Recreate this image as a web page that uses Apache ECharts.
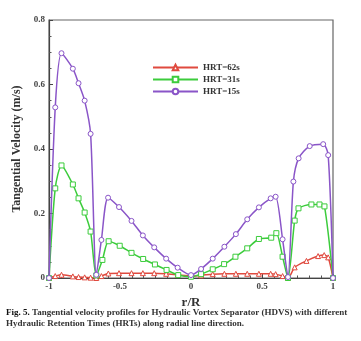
<!DOCTYPE html>
<html><head><meta charset="utf-8">
<script src="https://cdn.jsdelivr.net/npm/echarts@6/dist/echarts.min.js"></script>
<style>html,body{margin:0;padding:0;background:#fff}#c{width:361px;height:341px}</style>
</head><body><div id="c"></div>
<script>
// r/R positions and tangential velocities (m/s)
const xRed = [-1,-0.956,-0.912,-0.832,-0.792,-0.749,-0.707,-0.667,-0.631,-0.582,-0.507,-0.419,-0.339,-0.259,-0.175,-0.094,0,0.071,0.153,0.235,0.316,0.396,0.478,0.561,0.596,0.645,0.683,0.73,0.813,0.895,0.938,0.966,1];
const yRed = [0,0.006,0.01,0.005,0.003,0.002,0.001,0,0.006,0.014,0.015,0.015,0.015,0.015,0.013,0.01,0.006,0.008,0.012,0.013,0.013,0.013,0.013,0.013,0.012,0.006,0,0.033,0.053,0.068,0.071,0.064,0];
const xGreen = [-1,-0.956,-0.912,-0.832,-0.792,-0.749,-0.707,-0.667,-0.624,-0.580,-0.502,-0.419,-0.337,-0.254,-0.172,-0.090,0,0.071,0.153,0.233,0.313,0.396,0.478,0.565,0.601,0.645,0.683,0.73,0.757,0.848,0.905,0.94,1];
const yGreen = [0,0.278,0.349,0.29,0.247,0.203,0.144,0.008,0.056,0.114,0.1,0.078,0.059,0.042,0.025,0.009,0.004,0.012,0.027,0.043,0.066,0.092,0.121,0.125,0.139,0.066,0,0.178,0.216,0.228,0.228,0.222,0];
const xPurple = [-1,-0.956,-0.912,-0.832,-0.792,-0.749,-0.707,-0.667,-0.631,-0.584,-0.507,-0.419,-0.339,-0.259,-0.175,-0.094,0,0.071,0.153,0.235,0.316,0.396,0.478,0.561,0.596,0.645,0.683,0.721,0.758,0.836,0.931,0.966,1];
const yPurple = [0,0.529,0.697,0.649,0.604,0.55,0.447,0.01,0.118,0.249,0.22,0.177,0.132,0.095,0.06,0.032,0.009,0.028,0.06,0.097,0.136,0.182,0.219,0.247,0.252,0.12,0.003,0.299,0.371,0.409,0.415,0.381,0];
const seriesNames = ['HRT=62s','HRT=31s','HRT=15s'];
const xTicks = [-1,-0.5,0,0.5,1];
const yTicks = [0,0.2,0.4,0.6,0.8];

const pairs = (xs, ys) => xs.map((x,i)=>[x, ys[i]]);
const serif = 'Liberation Serif';
const colors = ['#e04a3f','#3ccc3c','#8a55c8'];
const symbols = ['triangle','rect','circle'];
const datas = [pairs(xRed,yRed), pairs(xGreen,yGreen), pairs(xPurple,yPurple)];

const chart = echarts.init(document.getElementById('c'));
chart.setOption({
  animation:false,
  backgroundColor:'#fff',
  grid:{left:49,right:28,top:20,bottom:63},
  legend:{
    orient:'vertical', left:147, top:58, itemWidth:45, itemHeight:7, itemGap:3,
    data:seriesNames,
    textStyle:{fontFamily:serif,fontWeight:'bold',fontSize:9,color:'#333'}
  },
  xAxis:{
    type:'value', min:-1, max:1, interval:0.5,
    name:'r/R', nameLocation:'middle', nameGap:15,
    nameTextStyle:{fontFamily:serif,fontWeight:'bold',fontSize:13,color:'#333'},
    axisLine:{onZero:false,lineStyle:{color:'#444',width:1.2}},
    axisTick:{inside:true,length:4,lineStyle:{color:'#444'}},
    minorTick:{show:true,splitNumber:6,length:2.5,lineStyle:{color:'#555'}},
    splitLine:{show:false},
    axisLabel:{fontFamily:serif,fontWeight:'bold',fontSize:9,color:'#444',margin:4,
      formatter:v=>xTicks.includes(v)?String(v):''}
  },
  yAxis:{
    type:'value', min:0, max:0.8, interval:0.2,
    name:'Tangential Velocity (m/s)', nameLocation:'middle', nameGap:23,
    nameTextStyle:{fontFamily:serif,fontWeight:'bold',fontSize:12,color:'#333'},
    axisLine:{show:true,onZero:false,lineStyle:{color:'#444',width:1.2}},
    axisTick:{show:true,inside:true,length:4,lineStyle:{color:'#444'}},
    minorTick:{show:true,splitNumber:4,length:2.5,lineStyle:{color:'#555'}},
    splitLine:{show:false},
    axisLabel:{fontFamily:serif,fontWeight:'bold',fontSize:9,color:'#444',margin:4,
      formatter:v=>yTicks.includes(+v.toFixed(2))?String(+v.toFixed(1)):''}
  },
  graphic:[
    {type:'rect',shape:{x:49,y:20,width:284,height:258},style:{fill:'none',stroke:'#666',lineWidth:1.2},silent:true},
    {type:'text',left:6,top:308,style:{text:'{b|Fig. 5.} Tangential velocity profiles for Hydraulic Vortex Separator (HDVS) with different',
      rich:{b:{fontFamily:serif,fontWeight:'bold',fontSize:9,fill:'#111'}},
      font:'bold 9px "Liberation Serif"',fill:'#333'}},
    {type:'text',left:6,top:319,style:{text:'Hydraulic Retention Times (HRTs) along radial line direction.',
      font:'bold 9px "Liberation Serif"',fill:'#333'}}
  ],
  series:datas.map((d,i)=>({
    name:seriesNames[i], type:'line', data:d, smooth:0.25,
    symbol:symbols[i], symbolSize:5, showAllSymbol:true,
    lineStyle:{color:colors[i],width:1.5},
    itemStyle:{color:'#fff',borderColor:colors[i],borderWidth:1},
    z:2+i
  }))
});
</script></body></html>
